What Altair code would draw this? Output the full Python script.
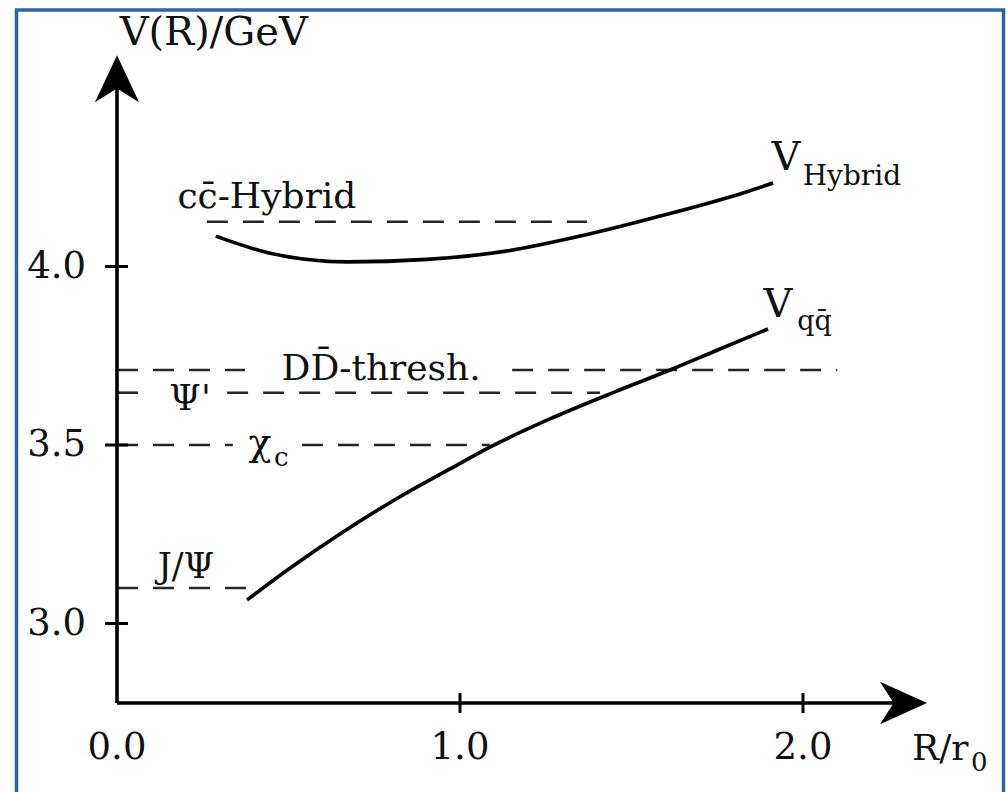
import altair as alt
import pandas as pd

# ---------------- data ----------------
# potential curves  (R / r0 , V / GeV)
hyb_R = [0.288, 0.443, 0.673, 0.904, 1.134, 1.364, 1.595, 1.825, 1.913]
hyb_V = [4.085, 4.038, 4.013, 4.020, 4.043, 4.088, 4.144, 4.206, 4.234]
qq_R = [0.379, 0.504, 0.650, 0.825, 0.971, 1.087, 1.262, 1.452, 1.612, 1.758, 1.898]
qq_V = [3.066, 3.155, 3.251, 3.355, 3.433, 3.494, 3.573, 3.649, 3.710, 3.769, 3.825]

# dashed levels: one entry per dashed segment
lvl_V = [4.1255, 3.710, 3.710, 3.6465, 3.6465, 3.500, 3.500, 3.0994]
lvl_R0 = [0.262, 0.0, 1.152, 0.0, 0.321, 0.0, 0.539, 0.0]
lvl_R1 = [1.370, 0.373, 2.100, 0.067, 1.408, 0.338, 1.087, 0.379]

# axis ticks
x_ticks = [1.0, 2.0]
x_tick_labels = ["0.0", "1.0", "2.0"]
x_tick_label_pos = [0.0, 1.0, 2.0]
y_ticks = [3.0, 3.5, 4.0]
y_tick_labels = ["3.0", "3.5", "4.0"]

# axis extents
x_axis_V = 2.7773
x_axis_end = 2.27
y_axis_end = 4.58
arrow_up = (0.0, 4.526)
arrow_right = (2.293, 2.7773)

# text labels: text, R, V, size, align
lab_text = ["V(R)/GeV", "cc\u0304-Hybrid", "DD\u0304-thresh.", "\u03a8'", "\u03c7", "c",
            "J/\u03a8", "V", "Hybrid", "V", "qq\u0304", "R/r", "0"]
lab_R = [0.282, 0.437, 0.770, 0.213, 0.417, 0.458, 0.201, 1.950, 1.999, 1.927, 1.983, 2.318, 2.490]
lab_V = [4.620, 4.164, 3.682, 3.598, 3.472, 3.440, 3.128, 4.270, 4.228, 3.858, 3.822, 2.618, 2.588]
lab_size = [40, 36, 36, 36, 38, 26, 35, 40, 28, 40, 27, 36, 26]
lab_align = ["center", "center", "center", "center", "center", "left",
             "center", "center", "left", "center", "left", "left", "left"]

# ---------------- scales ----------------
W, H = 1007, 792
xs = alt.Scale(domain=[-117 / 343, (W - 117) / 343], nice=False, zero=False)
ys = alt.Scale(domain=[3.0 + (623.5 - H) / 357, 3.0 + 623.5 / 357], nice=False, zero=False)
FONT = "DejaVu Serif"


def X(f="R"):
    return alt.X(f"{f}:Q", scale=xs, axis=None)


def Y(f="V"):
    return alt.Y(f"{f}:Q", scale=ys, axis=None)


curves = pd.DataFrame({
    "R": hyb_R + qq_R,
    "V": hyb_V + qq_V,
    "c": ["hyb"] * len(hyb_R) + ["qq"] * len(qq_R),
})
levels = pd.DataFrame({"V": lvl_V, "R0": lvl_R0, "R1": lvl_R1})
labels = pd.DataFrame({"t": lab_text, "R": lab_R, "V": lab_V, "s": lab_size, "a": lab_align})

frame = alt.Chart(pd.DataFrame({"k": [0]})).mark_rect(
    fill="transparent", stroke="#2c64ab", strokeWidth=3.5
).encode(x=alt.value(16.5), x2=alt.value(1003.5), y=alt.value(10), y2=alt.value(840))

dashes = alt.Chart(levels).mark_rule(
    color="#262626", strokeWidth=2.6, strokeDash=[21, 15]
).encode(x=X("R0"), x2="R1:Q", y=Y())

curve = alt.Chart(curves).mark_line(
    color="black", strokeWidth=3.6, interpolate="monotone"
).encode(x=X(), y=Y(), detail="c:N")

axes_df = pd.DataFrame({
    "R0": [0.0, 0.0], "R1": [x_axis_end, 0.0],
    "V0": [x_axis_V, x_axis_V], "V1": [x_axis_V, y_axis_end],
})
axes = alt.Chart(axes_df).mark_rule(color="black", strokeWidth=3.6).encode(
    x=X("R0"), x2="R1:Q", y=Y("V0"), y2="V1:Q")

xt_df = pd.DataFrame({"R": x_ticks, "V0": [2.8053] * len(x_ticks), "V1": [2.7493] * len(x_ticks)})
xt = alt.Chart(xt_df).mark_rule(color="black", strokeWidth=3).encode(
    x=X(), y=Y("V0"), y2="V1:Q")
yt_df = pd.DataFrame({"V": y_ticks, "R0": [-0.035] * len(y_ticks), "R1": [0.032] * len(y_ticks)})
yt = alt.Chart(yt_df).mark_rule(color="black", strokeWidth=3).encode(
    y=Y(), x=X("R0"), x2="R1:Q")

up = alt.Chart(pd.DataFrame({"R": [arrow_up[0]], "V": [arrow_up[1]]})).mark_point(
    shape="M0,-1L0.94,1L0,0.42L-0.94,1Z", size=2209, filled=True, opacity=1,
    color="black", strokeWidth=0).encode(x=X(), y=Y())
right = alt.Chart(pd.DataFrame({"R": [arrow_right[0]], "V": [arrow_right[1]]})).mark_point(
    shape="M1,0L-1,0.9L-0.42,0L-1,-0.9Z", size=2209, filled=True, opacity=1,
    color="black", strokeWidth=0).encode(x=X(), y=Y())

xl_df = pd.DataFrame({"R": x_tick_label_pos, "t": x_tick_labels, "V": [2.620] * 3})
xl = alt.Chart(xl_df).mark_text(
    font=FONT, fontSize=37, baseline="alphabetic", align="center", color="#111").encode(
    x=X(), y=Y(), text="t:N")
yl_df = pd.DataFrame({"V": y_ticks, "t": y_tick_labels, "R": [-0.090] * 3})
yl = alt.Chart(yl_df).mark_text(
    font=FONT, fontSize=37, baseline="middle", align="right", color="#111").encode(
    y=Y(), x=X(), text="t:N")

texts = []
for i in range(len(lab_text)):
    row = labels.iloc[[i]]
    texts.append(alt.Chart(row).mark_text(
        font=FONT, baseline="alphabetic", align=lab_align[i], fontSize=lab_size[i],
        color="#111").encode(x=X(), y=Y(), text="t:N"))

chart = alt.layer(frame, dashes, curve, axes, xt, yt, up, right, xl, yl, *texts).properties(
    width=W, height=H, padding=0, autosize=alt.AutoSizeParams(type="none"),
    background="white",
).configure_view(stroke=None)

chart.save("out.html", embed_options={"renderer": "svg", "actions": False})
